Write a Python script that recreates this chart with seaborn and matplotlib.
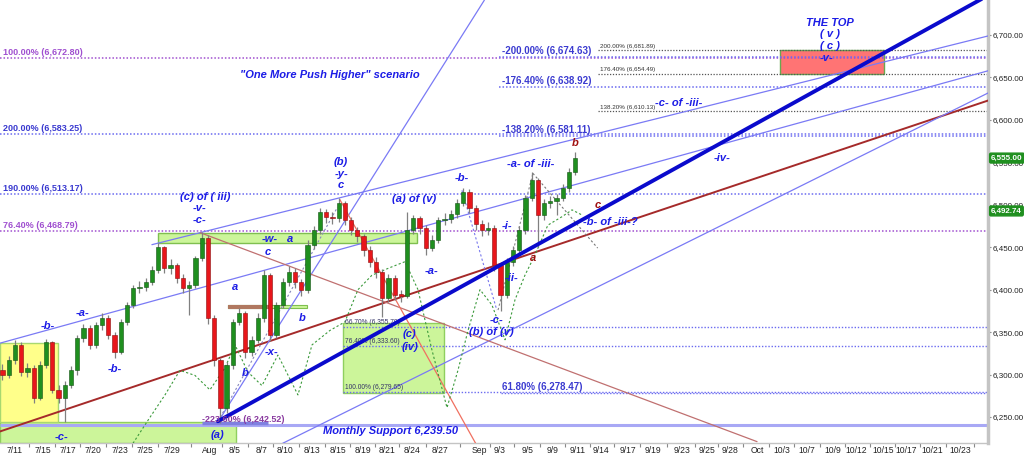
import numpy as np
import pandas as pd
import matplotlib
matplotlib.use("Agg")
import matplotlib.pyplot as plt
import seaborn as sns
from matplotlib.patches import Rectangle
from matplotlib.ticker import FuncFormatter, FixedLocator

# --- price bars (half-session bars, x = session index, 7/11 = 0) ---
bar_x = np.arange(-1.0, 45.01, 0.5)
first_open = 6305
closes = [6300, 6317, 6335, 6303, 6308, 6272, 6311, 6338, 6282, 6272,
          6288, 6305, 6343, 6355, 6335, 6358, 6367, 6347, 6327, 6362,
          6382, 6402, 6403, 6409, 6423, 6450, 6425, 6429, 6414, 6402,
          6405, 6437, 6461, 6367, 6317, 6261, 6311, 6362, 6372, 6327,
          6341, 6367, 6417, 6347, 6382, 6409, 6421, 6409, 6400, 6453,
          6470, 6491, 6486, 6484, 6502, 6482, 6470, 6463, 6447, 6433,
          6421, 6390, 6414, 6394, 6393, 6470, 6484, 6473, 6449, 6459,
          6482, 6483, 6489, 6502, 6515, 6496, 6477, 6470, 6473, 6429,
          6394, 6433, 6447, 6470, 6508, 6529, 6488, 6502, 6505, 6508,
          6520, 6539, 6555]
highs = [6312, 6322, 6341, 6338, 6314, 6311, 6316, 6342, 6340, 6288,
         6292, 6310, 6347, 6360, 6358, 6362, 6372, 6370, 6350, 6366,
         6386, 6406, 6410, 6414, 6428, 6455, 6452, 6436, 6432, 6418,
         6410, 6440, 6468, 6464, 6370, 6320, 6315, 6366, 6378, 6375,
         6346, 6372, 6423, 6420, 6386, 6414, 6428, 6425, 6413, 6458,
         6475, 6496, 6495, 6492, 6508, 6505, 6486, 6474, 6466, 6451,
         6438, 6424, 6419, 6417, 6400, 6491, 6488, 6487, 6476, 6464,
         6486, 6490, 6494, 6507, 6520, 6518, 6500, 6482, 6480, 6476,
         6432, 6437, 6452, 6475, 6512, 6539, 6532, 6507, 6510, 6513,
         6525, 6543, 6562]
lows = [6294, 6296, 6313, 6298, 6297, 6266, 6270, 6308, 6278, 6266,
        6244, 6284, 6300, 6338, 6330, 6331, 6352, 6342, 6320, 6324,
        6358, 6378, 6396, 6398, 6405, 6420, 6420, 6418, 6408, 6396,
        6370, 6402, 6434, 6360, 6310, 6243, 6255, 6306, 6358, 6320,
        6322, 6337, 6362, 6340, 6343, 6378, 6404, 6402, 6392, 6396,
        6448, 6466, 6478, 6477, 6480, 6476, 6464, 6456, 6440, 6427,
        6414, 6368, 6386, 6388, 6386, 6390, 6465, 6466, 6441, 6445,
        6455, 6476, 6478, 6485, 6498, 6490, 6470, 6463, 6464, 6422,
        6375, 6390, 6428, 6443, 6466, 6504, 6450, 6482, 6496, 6488,
        6504, 6515, 6535]

# --- axis ticks ---
x_tick_pos = [0, 2.25, 4.26, 6.27, 8.43, 10.44, 12.6, 15.66, 17.67, 19.84,
              21.69, 23.86, 25.94, 27.95, 29.88, 31.89, 34.14, 37.27, 38.96,
              41.2, 43.2, 45.2, 47.1, 49.2, 51.2, 53.6, 55.6, 57.4, 59.6,
              61.6, 63.6, 65.7, 67.6, 69.7, 71.6, 73.7, 75.9]
x_tick_labels = ["7/11", "7/15", "7/17", "7/20", "7/23", "7/25", "7/29", "Aug",
                 "8/5", "8/7", "8/10", "8/13", "8/15", "8/19", "8/21", "8/24",
                 "8/27", "Sep", "9/3", "9/5", "9/9", "9/11", "9/14", "9/17",
                 "9/19", "9/23", "9/25", "9/28", "Oct", "10/3", "10/7", "10/9",
                 "10/12", "10/15", "10/17", "10/21", "10/23"]
y_ticks = [6250, 6300, 6350, 6400, 6450, 6500, 6550, 6600, 6650, 6700]

# --- fibonacci levels ---
fib_full = [("100.00% (6,672.80)", 6672.80, "purple"), ("200.00% (6,583.25)", 6583.25, "blue"),
            ("190.00% (6,513.17)", 6513.17, "blue"), ("76.40% (6,468.79)", 6468.79, "purple")]
fib_neg = [("-200.00% (6,674.63)", 6674.63), ("-176.40% (6,638.92)", 6638.92),
           ("-138.20% (6,581.11)", 6581.11)]
fib_gray = [("200.00% (6,681.89)", 6681.89), ("176.40% (6,654.49)", 6654.49),
            ("138.20% (6,610.13)", 6610.13)]
fib_iv = [("66.70% (6,355.70)", 6355.70), ("76.40% (6,333.60)", 6333.60),
          ("100.00% (6,279.65)", 6279.65)]
fib_618 = 6278.47
monthly_support = 6241.0
last_prices = [6555.00, 6492.74]

# --- trend lines (x0, p0, x1, p1) ---
thick_line = (16.3, 6245, 78.2, 6747)
brown_line = (-1.2, 6233, 78.2, 6623)
blue_lines = [(-1.2, 6337, 78.2, 6658), (11.0, 6453, 78.2, 6699),
              (21.5, 6219, 78.2, 6632), (16.3, 6244, 37.7, 6741)]
decline_line = (14.9, 6467, 59.6, 6221)
steep_red = (26.1, 6506, 37.0, 6219)

# analog path (green dotted)
path_x = [9.48, 10.68, 12.05, 13.25, 14.46, 15.66, 16.87, 17.67, 18.71, 19.84,
          21.12, 22.73, 23.86, 25.3, 26.5, 27.55, 28.67, 30.12, 31.33, 32.37,
          33.49, 34.7, 35.58, 36.39, 37.35, 38.31, 39.36, 40.16, 40.96, 41.77,
          42.8, 43.94, 44.74, 45.54]
path_y = [6219, 6246, 6276, 6305, 6299, 6282, 6308, 6335, 6303, 6287,
          6323, 6276, 6335, 6352, 6362, 6400, 6417, 6426, 6433, 6400,
          6329, 6261, 6305, 6352, 6400, 6382, 6341, 6388, 6417, 6441,
          6476, 6486, 6494, 6488]

BLUE = "#1c1ce6"
DRED = "#a01010"
FIB_BLUE = "#3a3ad0"
FIB_PURP = "#a050d0"
DOT = (0, (1, 1.3))

sns.set_theme(style="white")
plt.rcParams["font.family"] = ["Liberation Sans", "DejaVu Sans"]

fig = plt.figure(figsize=(10.24, 4.55), dpi=100)
ax = fig.add_axes([0, 12 / 455, 988 / 1024, 443 / 455])
ax.set_xlim(-1.2, 78.15)
ax.set_ylim(6219.4, 6741.2)

# boxes
ax.add_patch(Rectangle((-1.2, 6219.4), 18.95, 24.6, fc="#ccf59a", ec="#8fcf5f", lw=1, zorder=1))
ax.add_patch(Rectangle((-1.2, 6244), 4.65, 93, fc="#ffff8a", ec="#a8d870", lw=1, zorder=1))
ax.add_patch(Rectangle((11.49, 6455), 20.8, 12, fc="#ccf59a", ec="#7fbf4f", lw=1, zorder=1))
ax.add_patch(Rectangle((17.1, 6378), 6.35, 4, fc="#ccf59a", ec="#7fbf4f", lw=0.8, zorder=1))
ax.add_patch(Rectangle((17.1, 6378), 3.2, 4, fc="#b07860", ec="#b07860", lw=0.8, zorder=1))
ax.add_patch(Rectangle((26.35, 6278.5), 8.1, 82.5, fc="#ccf59a", ec="#8fcf5f", lw=1, zorder=1))
ax.add_patch(Rectangle((61.45, 6654.49), 8.35, 27.4, fc="#ff7474", ec="#6aa84f", lw=1, zorder=1))

# fib lines
xmax = 78.15
for txt, v, c in fib_full:
    col = FIB_PURP if c == "purple" else "#6b6bf0"
    ax.hlines(v, -1.2, xmax, colors=col, linestyles=DOT, lw=1.1, zorder=2)
    ax.text(-0.95, v + 1, txt, color=FIB_PURP if c == "purple" else FIB_BLUE,
            fontsize=6.5, fontweight="bold", va="bottom", ha="left", zorder=6)
for txt, v in fib_neg:
    ax.hlines(v, 38.9, xmax, colors="#6b6bf0", linestyles=DOT, lw=1.1, zorder=2)
    ax.text(39.1, v + 1, txt, color=FIB_BLUE, fontsize=7, fontweight="bold",
            va="bottom", ha="left", zorder=6)
for txt, v in fib_gray:
    ax.hlines(v, 46.8, xmax, colors="#555555", linestyles=DOT, lw=0.9, zorder=2)
    ax.text(46.95, v + 1.5, txt, color="#333333", fontsize=4.5, va="bottom", ha="left", zorder=6)
for txt, v in fib_iv:
    ax.hlines(v, 26.35, xmax, colors="#6b6bf0", linestyles=DOT, lw=1.0, zorder=2)
    ax.text(26.5, v + 1, txt, color="#333366", fontsize=4.8, va="bottom", ha="left", zorder=6)
ax.hlines(fib_618, 39.0, xmax, colors="#6b6bf0", linestyles=DOT, lw=1.0, zorder=2)
ax.text(39.1, fib_618 + 1.5, "61.80% (6,278.47)", color=FIB_BLUE, fontsize=7,
        fontweight="bold", va="bottom", ha="left", zorder=6)
ax.hlines(monthly_support, -1.2, xmax, colors="#a8a8f5", lw=2.2, zorder=2)
ax.hlines(6242.52, 15.0, 20.3, colors="#8080e0", lw=2.5, zorder=2)

# trend lines
def seg(line, **kw):
    x0, p0, x1, p1 = line
    sns.lineplot(x=[x0, x1], y=[p0, p1], ax=ax, **kw)

seg(brown_line, color="#a52a2a", lw=1.4, zorder=3)
for ln in blue_lines:
    seg(ln, color="#7a7af5", lw=0.9, zorder=3)
seg(decline_line, color="#c07070", lw=0.9, zorder=3)
seg(steep_red, color="#f07060", lw=0.9, zorder=3)
seg((16.5, 6250, 25.9, 6497), color="#8888bb", lw=0.8, ls=(0, (2, 2)), zorder=3)
seg((35.9, 6517, 38.7, 6376), color="#7777ee", lw=0.8, ls=(0, (2, 2)), zorder=3)
seg((38.8, 6376, 41.6, 6537), color="#888888", lw=0.8, ls=(0, (2, 2)), zorder=3)
seg((41.6, 6537, 46.8, 6449), color="#777777", lw=0.8, ls=(0, (2, 2)), zorder=3)
sns.lineplot(x=path_x, y=path_y, ax=ax, color="#3c9a3c", lw=0.8, ls=(0, (2, 2)), zorder=3)

# candles
df = pd.DataFrame({"x": bar_x, "close": closes, "high": highs, "low": lows})
df["open"] = [first_open] + closes[:-1]
up = df["close"] >= df["open"]
ax.vlines(df["x"], df["low"], df["high"], color="#808080", lw=0.9, zorder=4)
for mask, col, ec in [(up, "#1f8f1f", "#145214"), (~up, "#e8161b", "#8a0d0d")]:
    d = df[mask]
    ax.bar(d["x"], (d["close"] - d["open"]).abs().clip(lower=1.5),
           bottom=d[["open", "close"]].min(axis=1), width=0.34,
           color=col, edgecolor=ec, lw=0.4, zorder=5)

seg(thick_line, color="#0a0acc", lw=2.8, zorder=6)

# labels
def lab(s, x, y, color=BLUE, size=8):
    ax.text(x, y, s, color=color, fontsize=size, fontweight="bold", fontstyle="italic",
            ha="center", va="center", zorder=7)

lab("THE TOP", 65.46, 6714)
lab("( v )", 65.46, 6701)
lab("( c )", 65.46, 6687)
lab("-v-", 65.2, 6673)
lab("\"One More Push Higher\" scenario", 25.3, 6653)
lab("(b)", 26.2, 6550); lab("-y-", 26.2, 6536); lab("c", 26.2, 6523)
lab("(c) of ( iii)", 15.26, 6509); lab("-v-", 14.8, 6496); lab("-c-", 14.8, 6482)
lab("(a) of (v)", 32.1, 6507)
lab("-b-", 35.9, 6532)
lab("-a-", 33.5, 6422)
lab("-i-", 39.5, 6475)
lab("-ii-", 39.9, 6414)
lab("-c-", 38.7, 6364)
lab("(b) of (v)", 38.3, 6350)
lab("(c)", 31.7, 6348); lab("(iv)", 31.7, 6332)
lab("-a- of -iii-", 41.4, 6548)
lab("-b- of -iii-?", 47.8, 6480)
lab("-c- of -iii-", 53.3, 6620)
lab("-iv-", 56.8, 6555)
lab("b", 45.0, 6573, DRED); lab("c", 46.8, 6500, DRED); lab("a", 41.6, 6437, DRED)
lab("-b-", 2.65, 6357); lab("-a-", 5.46, 6372); lab("-b-", 8.03, 6307); lab("-c-", 3.78, 6226)
lab("-w-", 20.5, 6460); lab("a", 22.1, 6460); lab("c", 20.3, 6444); lab("a", 17.67, 6403)
lab("b", 23.05, 6367); lab("-x-", 20.64, 6327); lab("b", 18.47, 6302)
lab("(a)", 16.3, 6229)
lab("Monthly Support 6,239.50", 30.2, 6233.5)
ax.text(15.0, 6247, "-223.60% (6,242.52)", color="#8a3aa0", fontsize=6.5,
        fontweight="bold", ha="left", va="center", zorder=7)

# axes styling
ax.yaxis.tick_right()
ax.set_yticks(y_ticks)
ax.yaxis.set_major_formatter(FuncFormatter(lambda v, p: f"{v:,.2f}"))
ax.tick_params(axis="y", length=2.5, width=0.8, color="#888888", pad=1, labelsize=5.8,
               labelcolor="#222222")
ax.set_xticks(x_tick_pos)
ax.set_xticklabels(x_tick_labels)
mids = [(a + b) / 2 for a, b in zip(x_tick_pos[:-1], x_tick_pos[1:])] + [77.0]
ax.xaxis.set_minor_locator(FixedLocator(mids))
ax.tick_params(axis="x", which="major", length=0, pad=2, labelsize=6.2, labelcolor="#222222")
ax.tick_params(axis="x", which="minor", length=3, width=0.8, color="#888888")
ax.xaxis.set_tick_params(which="minor", bottom=True)
for s in ["top", "left"]:
    ax.spines[s].set_visible(False)
ax.spines["right"].set_color("#c4c4c4")
ax.spines["right"].set_linewidth(2.5)
ax.spines["bottom"].set_color("#c4c4c4")
ax.spines["bottom"].set_linewidth(1.0)
ax.set_xlabel("")
ax.set_ylabel("")

for val in last_prices:
    ax.annotate(f"{val:,.2f}", xy=(1.0, val), xycoords=("axes fraction", "data"),
                xytext=(2.2, 0), textcoords="offset points", ha="left", va="center",
                fontsize=5.8, color="white", fontweight="bold", zorder=10,
                bbox=dict(boxstyle="round,pad=0.18", fc="#1f8f1f", ec="#1f8f1f"),
                annotation_clip=False)

fig.savefig("out.png", dpi=100)
